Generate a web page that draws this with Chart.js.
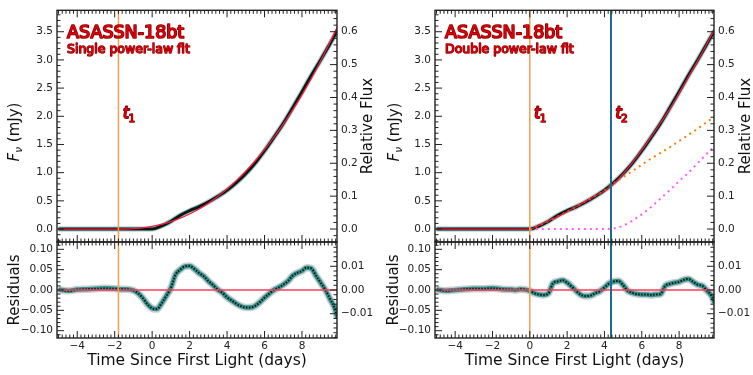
<!DOCTYPE html>
<html>
<head>
<meta charset="utf-8">
<script src="https://cdn.jsdelivr.net/npm/chart.js@4.4.1/dist/chart.umd.min.js"></script>
<style>
  html, body { margin: 0; padding: 0; background: #fff; }
  #wrap { position: relative; width: 753px; height: 375px; overflow: hidden; }
  canvas { position: absolute; }
</style>
</head>
<body>
<div id="wrap">
  <canvas id="mainL" width="378" height="260" style="left:0;top:0"></canvas>
  <canvas id="resL" width="378" height="145" style="left:0;top:230px"></canvas>
  <canvas id="mainR" width="375" height="260" style="left:378px;top:0"></canvas>
  <canvas id="resR" width="375" height="145" style="left:378px;top:230px"></canvas>
</div>
<script>
// light curve, days since first light
const dayGrid = [-5, -4.5, -4, -3.5, -3, -2.5, -2, -1.5, -1, -0.5, 0, 0.5, 1, 1.5, 2, 2.5, 3, 3.5, 4, 4.5, 5, 5.5, 6, 6.5, 7, 7.5, 8, 8.5, 9, 9.5, 9.9];
const fluxMJy = [0, 0, 0, 0, 0, 0, 0, 0, 0, 0, 0, 0.054, 0.137, 0.243, 0.325, 0.396, 0.48, 0.578, 0.688, 0.823, 0.982, 1.169, 1.388, 1.625, 1.873, 2.148, 2.432, 2.726, 3.002, 3.288, 3.52];
const singleFit = [0, 0, 0, 0, 0, 0, 0, 0.001, 0.007, 0.022, 0.048, 0.084, 0.132, 0.193, 0.267, 0.356, 0.458, 0.578, 0.71, 0.859, 1.025, 1.207, 1.407, 1.625, 1.859, 2.112, 2.384, 2.674, 2.984, 3.313, 3.59];
const doubleFit = [0, 0, 0, 0, 0, 0, 0, 0, 0, 0, 0, 0.064, 0.145, 0.221, 0.307, 0.4, 0.495, 0.586, 0.68, 0.803, 0.977, 1.177, 1.398, 1.636, 1.881, 2.132, 2.412, 2.699, 2.987, 3.29, 3.55];

// the two power-law components of the double fit
const compDays = [0, 0.5, 1, 1.5, 2, 2.5, 3, 3.5, 4, 4.35, 4.5, 5, 5.5, 6, 6.5, 7, 7.5, 8, 8.5, 9, 9.5, 9.9];
const firstComp = [0, 0.064, 0.145, 0.221, 0.307, 0.4, 0.495, 0.586, 0.68, 0.77, 0.81, 0.92, 1.03, 1.14, 1.25, 1.35, 1.45, 1.56, 1.67, 1.78, 1.9, 1.99];
const secondComp = [0, 0, 0, 0, 0, 0, 0, 0, 0, 0, 0.01, 0.06, 0.15, 0.26, 0.39, 0.54, 0.69, 0.85, 1.0, 1.17, 1.34, 1.47];

// residuals (mJy)
const resDays = [-5, -4.5, -4, -3.5, -3, -2.5, -2, -1.5, -1, -0.75, -0.5, -0.25, 0, 0.25, 0.5, 0.75, 1, 1.25, 1.5, 1.75, 2, 2.25, 2.5, 2.75, 3, 3.25, 3.5, 3.75, 4, 4.25, 4.5, 4.75, 5, 5.25, 5.5, 5.75, 6, 6.25, 6.5, 6.75, 7, 7.25, 7.5, 7.75, 8, 8.25, 8.5, 8.75, 9, 9.25, 9.5, 9.75, 9.9];
const resSingle = [0.001, -0.002, 0.001, 0.002, 0.003, 0.004, 0.003, 0.002, -0.001, -0.008, -0.02, -0.035, -0.045, -0.047, -0.033, -0.015, 0.005, 0.038, 0.05, 0.058, 0.059, 0.052, 0.042, 0.034, 0.022, 0.012, 0.001, -0.007, -0.018, -0.026, -0.034, -0.04, -0.043, -0.043, -0.039, -0.03, -0.019, -0.009, 0, 0.006, 0.013, 0.022, 0.035, 0.042, 0.047, 0.055, 0.053, 0.035, 0.018, 0, -0.022, -0.045, -0.07];
const resDouble = [0.001, -0.002, 0, 0.002, 0.003, 0.003, 0.004, 0.002, 0.001, 0, 0.002, 0.001, -0.002, -0.008, -0.011, -0.012, -0.008, 0.017, 0.021, 0.024, 0.018, 0.008, -0.003, -0.012, -0.015, -0.014, -0.008, -0.003, 0.006, 0.016, 0.021, 0.022, 0.012, -0.002, -0.007, -0.01, -0.011, -0.011, -0.012, -0.011, -0.01, 0.01, 0.015, 0.018, 0.02, 0.025, 0.027, 0.02, 0.013, 0.01, -0.002, -0.015, -0.032];

// fit times
const t1Single = -1.8;
const t1Double = 0;
const t2Double = 4.35;

// ticks
const dayTicks = [-4, -2, 0, 2, 4, 6, 8];
const fluxTicks = [0, 0.5, 1, 1.5, 2, 2.5, 3, 3.5];
const relTicks = [0, 0.1, 0.2, 0.3, 0.4, 0.5, 0.6];
const resTicks = [-0.1, -0.05, 0, 0.05, 0.1];
const resRelTicks = [-0.01, 0, 0.01];

const mJyPerRel = 3.5 / 0.6;
const dayMin = -5.08, dayMax = 9.87;
const fluxMin = -0.23, fluxMax = 3.88;
const resMin = -0.118, resMax = 0.118;

const tickFont = { family: 'DejaVu Sans', size: 10.5 };
const fitRed = 'rgb(238,28,58)';
const t1Color = '#f5a04c';
const t2Color = '#1f6a87';

function minus(s) {
  return String(s).replace('-', '\u2212');
}

function xy(xs, ys) {
  return xs.map((x, i) => ({ x: x, y: ys[i] }));
}

function curve(points, color, width, dash, axis) {
  return {
    data: points, yAxisID: axis, borderColor: color, borderWidth: width, borderDash: dash || [],
    pointRadius: 0, cubicInterpolationMode: 'monotone', fill: false
  };
}

function vline(t, lo, hi, color, width, axis) {
  return { data: [{ x: t, y: lo }, { x: t, y: hi }], yAxisID: axis, borderColor: color, borderWidth: width, pointRadius: 0, tension: 0 };
}

// dark markers over teal error bars
function dataLayers(points, w, axis) {
  return [
    curve(points, '#111', w[0], w[3] ? [1.5, 1.5] : [], axis),
    curve(points, '#2f948f', w[1], null, axis),
    curve(points, 'rgba(160,160,160,0.5)', w[2], null, axis)
  ];
}

function yScale(pos, min, max, ticks, digits, width) {
  return {
    type: 'linear', position: pos, min: min, max: max,
    grid: { display: false, drawTicks: false }, border: { display: false },
    afterBuildTicks: s => { s.ticks = ticks.map(v => ({ value: v })); },
    afterFit: s => { s.width = width; },
    ticks: { font: tickFont, color: '#222', padding: 4, autoSkip: false, callback: v => minus(v.toFixed(digits)) }
  };
}

function xScale(show) {
  return {
    type: 'linear', min: dayMin, max: dayMax, display: show,
    grid: { display: false, drawTicks: false }, border: { display: false },
    afterBuildTicks: s => { s.ticks = dayTicks.map(v => ({ value: v })); },
    afterFit: s => { s.height = show ? 37 : 0; },
    ticks: { font: tickFont, color: '#222', padding: 2, maxRotation: 0, autoSkip: false, callback: v => minus(v) },
    title: { display: true, text: 'Time Since First Light (days)', font: { family: 'DejaVu Sans', size: 15.5 }, color: '#111', padding: { top: 0, bottom: 5 } }
  };
}

// inward matplotlib-style ticks, frame and in-plot labels
function tickRow(scale, step, majors, draw) {
  const i0 = Math.ceil(scale.min / step - 1e-6);
  const i1 = Math.floor(scale.max / step + 1e-6);
  for (let i = i0; i <= i1; i++) {
    const v = i * step;
    const major = majors.some(m => Math.abs(m - v) < step / 10);
    draw(scale.getPixelForValue(v), major ? 7 : 3.5);
  }
}

function vText(ctx, parts, cx, cy) {
  ctx.save();
  ctx.translate(cx, cy);
  ctx.rotate(-Math.PI / 2);
  ctx.textBaseline = 'alphabetic';
  let total = 0;
  parts.forEach(p => { ctx.font = p.font; p.w = ctx.measureText(p.text).width; total += p.w; });
  let x = -total / 2;
  parts.forEach(p => { ctx.font = p.font; ctx.fillText(p.text, x, p.dy); x += p.w; });
  ctx.restore();
}

function outlined(ctx, text, x, y, font, lw) {
  ctx.font = font;
  ctx.lineJoin = 'round';
  ctx.lineWidth = lw;
  ctx.strokeStyle = '#8a0000';
  ctx.strokeText(text, x, y);
  ctx.fillStyle = '#e5000d';
  ctx.fillText(text, x, y);
}

const framePlugin = {
  id: 'frame',
  afterDraw(chart, args, o) {
    const ctx = chart.ctx;
    const a = chart.chartArea;
    const sx = chart.scales.x, yl = chart.scales.yl, yr = chart.scales.yr;
    ctx.save();
    ctx.strokeStyle = '#222';
    ctx.lineWidth = 1;
    const seg = (x1, y1, x2, y2) => { ctx.beginPath(); ctx.moveTo(x1, y1); ctx.lineTo(x2, y2); ctx.stroke(); };
    tickRow(sx, 0.2, dayTicks, (p, l) => { seg(p, a.bottom, p, a.bottom - l); seg(p, a.top, p, a.top + l); });
    tickRow(yl, o.lStep, o.lMajor, (p, l) => seg(a.left, p, a.left + l, p));
    tickRow(yr, o.rStep, o.rMajor, (p, l) => seg(a.right, p, a.right - l, p));
    ctx.lineWidth = 1.4;
    ctx.strokeRect(a.left, a.top, a.right - a.left, a.bottom - a.top);

    ctx.fillStyle = '#111';
    if (o.fTitle) {
      vText(ctx, [
        { text: 'F', font: 'italic 15px "DejaVu Sans"', dy: 5.5 },
        { text: '\u03bd', font: 'italic 10.5px "DejaVu Sans"', dy: 8.5 },
        { text: ' (mJy)', font: '15px "DejaVu Sans"', dy: 5.5 }
      ], o.fTitle, 132);
      vText(ctx, [{ text: 'Relative Flux', font: '15px "DejaVu Sans"', dy: 5.5 }], 366, (a.top + a.bottom) / 2);
    }
    if (o.resTitle) {
      vText(ctx, [{ text: 'Residuals', font: '15px "DejaVu Sans"', dy: 5.5 }], o.resTitle, (a.top + a.bottom) / 2);
    }
    if (o.title) {
      ctx.textBaseline = 'alphabetic';
      outlined(ctx, 'ASASSN-18bt', a.left + 10, 38, '17.5px "DejaVu Sans"', 1.7);
      outlined(ctx, o.title, a.left + 10, 53, '12.5px "DejaVu Sans"', 1.4);
      o.marks.forEach(m => {
        const px = sx.getPixelForValue(m.t) + 4.5;
        outlined(ctx, 't', px, 118, 'italic 15.5px "DejaVu Sans"', 1.8);
        outlined(ctx, m.sub, px + 5.5, 121.5, '10.5px "DejaVu Sans"', 1.3);
      });
    }
    ctx.restore();
  }
};

function makeChart(id, datasets, scales, frame, pad) {
  return new Chart(document.getElementById(id), {
    type: 'line',
    data: { datasets: datasets },
    options: {
      responsive: false, animation: false, events: [],
      layout: { padding: pad },
      scales: scales,
      plugins: { legend: { display: false }, tooltip: { enabled: false }, frame: frame }
    },
    plugins: [framePlugin]
  });
}

const lc = xy(dayGrid, fluxMJy);
const mainPad = { top: 8, bottom: 18, left: 0, right: 0 };
const resPad = { top: 12, bottom: 0, left: 0, right: 0 };

// left: single power-law fit
makeChart('mainL', [
  vline(t1Single, fluxMin, fluxMax, t1Color, 1.5, 'yl'),
  curve(xy(dayGrid, singleFit), fitRed, 1.3, null, 'yl'),
  ...dataLayers(lc, [2.6, 3.6, 5.5], 'yl')
], {
  x: xScale(false),
  yl: yScale('left', fluxMin, fluxMax, fluxTicks, 1, 57),
  yr: yScale('right', fluxMin / mJyPerRel, fluxMax / mJyPerRel, relTicks, 1, 41)
}, { lStep: 0.1, lMajor: fluxTicks, rStep: 0.02, rMajor: relTicks, fTitle: 13.5, title: 'Single power-law fit', marks: [{ t: t1Single, sub: '1' }] }, mainPad);

makeChart('resL', [
  vline(t1Single, resMin, resMax, t1Color, 1.5, 'yl'),
  curve([{ x: dayMin, y: 0 }, { x: dayMax, y: 0 }], 'rgb(255,60,90)', 1.3, null, 'yl'),
  ...dataLayers(xy(resDays, resSingle), [2, 4.5, 7.5, 1], 'yl')
], {
  x: xScale(true),
  yl: yScale('left', resMin, resMax, resTicks, 2, 57),
  yr: yScale('right', resMin / mJyPerRel, resMax / mJyPerRel, resRelTicks, 2, 41)
}, { lStep: 0.01, lMajor: resTicks, rStep: 0.002, rMajor: resRelTicks, resTitle: 13.5 }, resPad);

// right: double power-law fit
makeChart('mainR', [
  vline(t2Double, fluxMin, fluxMax, t2Color, 2, 'yl'),
  vline(t1Double, fluxMin, fluxMax, t1Color, 1.5, 'yl'),
  curve(xy(dayGrid, doubleFit), fitRed, 1.3, null, 'yl'),
  curve(xy(compDays, firstComp), '#ff7f0e', 2, [2, 4], 'yl'),
  curve(xy(compDays, secondComp), '#ff5cff', 2, [2, 4], 'yl'),
  ...dataLayers(lc, [2.6, 3.6, 5.5], 'yl')
], {
  x: xScale(false),
  yl: yScale('left', fluxMin, fluxMax, fluxTicks, 1, 57),
  yr: yScale('right', fluxMin / mJyPerRel, fluxMax / mJyPerRel, relTicks, 1, 39)
}, { lStep: 0.1, lMajor: fluxTicks, rStep: 0.02, rMajor: relTicks, fTitle: 15.5, title: 'Double power-law fit', marks: [{ t: t1Double, sub: '1' }, { t: t2Double, sub: '2' }] }, mainPad);

makeChart('resR', [
  vline(t2Double, resMin, resMax, t2Color, 2, 'yl'),
  vline(t1Double, resMin, resMax, t1Color, 1.5, 'yl'),
  curve([{ x: dayMin, y: 0 }, { x: dayMax, y: 0 }], 'rgb(255,60,90)', 1.3, null, 'yl'),
  ...dataLayers(xy(resDays, resDouble), [2, 4.5, 7.5, 1], 'yl')
], {
  x: xScale(true),
  yl: yScale('left', resMin, resMax, resTicks, 2, 57),
  yr: yScale('right', resMin / mJyPerRel, resMax / mJyPerRel, resRelTicks, 2, 39)
}, { lStep: 0.01, lMajor: resTicks, rStep: 0.002, rMajor: resRelTicks, resTitle: 14.5 }, resPad);
</script>
</body>
</html>
